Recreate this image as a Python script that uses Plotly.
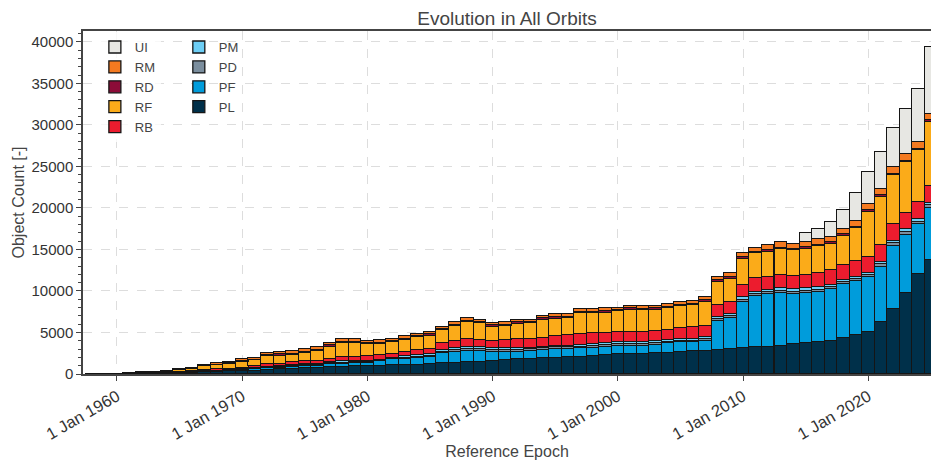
import plotly.graph_objects as go

years = list(range(1958, 2026))

PL = [2, 4, 12, 30, 50, 75, 105, 135, 170, 260, 300, 350, 400, 420, 530, 570, 650, 720, 720, 845,
      845, 930, 930, 964, 1048, 1130, 1085, 1170, 1290, 1360, 1410, 1482, 1603, 1687, 1771, 1844, 1892, 1964,
      2012, 2085, 2205, 2290, 2374, 2374, 2446, 2494, 2567, 2651, 2771, 2771, 2892, 3049, 3169, 3217, 3290,
      3410, 3580, 3700, 3820, 4013, 4374, 4700, 5025, 6230, 7796, 9724, 12050, 13737]
PF = [0, 0, 2, 5, 10, 15, 22, 30, 38, 60, 70, 85, 110, 200, 200, 200, 200, 240, 290, 325,
      410, 400, 446, 566, 723, 723, 800, 845, 1205, 1325, 1400, 1325, 1085, 1000, 916, 928, 1000, 1048,
      1000, 1012, 964, 1000, 1000, 1000, 928, 1036, 1133, 1170, 1085, 1205, 3495, 3663, 5543, 6182, 6345,
      6387, 6060, 6025, 6097, 6194, 6435, 6470, 6628, 6700, 7628, 7061, 5989, 6302]
PD = [0, 0, 0, 0, 1, 2, 3, 4, 5, 7, 8, 10, 12, 20, 40, 60, 80, 80, 100, 120,
      120, 90, 90, 90, 90, 130, 180, 180, 180, 190, 190, 190, 190, 190, 220, 180, 180, 180,
      180, 180, 200, 190, 200, 230, 220, 200, 180, 180, 160, 200, 230, 230, 240, 230, 210,
      230, 270, 270, 250, 210, 230, 240, 275, 300, 320, 340, 320, 300]
PM = [0, 0, 0, 2, 3, 5, 7, 9, 12, 18, 20, 25, 30, 50, 80, 90, 120, 120, 140, 160,
      160, 110, 110, 110, 110, 150, 220, 220, 220, 220, 220, 220, 220, 220, 260, 220, 220, 220,
      220, 220, 246, 220, 246, 288, 270, 246, 220, 220, 200, 246, 288, 288, 290, 290, 272,
      300, 330, 330, 316, 272, 290, 240, 280, 300, 320, 347, 320, 300]
RB = [1, 3, 10, 22, 35, 50, 60, 75, 90, 140, 160, 185, 220, 240, 325, 325, 400, 360, 315, 410,
      520, 520, 600, 600, 480, 520, 600, 600, 800, 880, 964, 880, 916, 1000, 1012, 1048, 1085, 1170,
      1250, 1290, 1290, 1277, 1205, 1205, 1205, 1205, 1205, 1290, 1410, 1398, 1410, 1482, 1482, 1614, 1607,
      1566, 1607, 1607, 1651, 1808, 1808, 2000, 1856, 1976, 2012, 1964, 2012, 2049]
RF = [0, 2, 10, 28, 70, 110, 160, 210, 270, 430, 500, 590, 700, 700, 964, 964, 890, 1050, 1205, 1400,
      1735, 1735, 1410, 1325, 1400, 1494, 1600, 1600, 1600, 1808, 2050, 2012, 1687, 1687, 1844, 1892, 2133, 2085,
      2050, 2530, 2410, 2410, 2530, 2615, 2615, 2530, 2651, 2651, 2651, 2892, 2808, 2735, 3133, 3012, 3012,
      3133, 3097, 3169, 3254, 3205, 3495, 3904, 5495, 5856, 5868, 6073, 6266, 7712]
RD = [0, 0, 2, 4, 8, 12, 16, 20, 30, 45, 50, 60, 80, 100, 120, 150, 120, 120, 170, 200,
      120, 120, 120, 120, 120, 120, 150, 170, 120, 120, 190, 120, 170, 160, 200, 120, 200, 170,
      200, 120, 160, 170, 160, 200, 200, 200, 160, 200, 200, 200, 200, 200, 200, 193, 200,
      200, 120, 170, 160, 160, 200, 190, 200, 200, 160, 193, 160, 200]
RM = [0, 1, 4, 9, 23, 31, 47, 67, 85, 140, 172, 195, 230, 190, 280, 280, 310, 310, 310, 280,
      310, 310, 280, 280, 290, 280, 200, 240, 280, 325, 290, 280, 240, 290, 280, 280, 313, 360,
      360, 434, 400, 400, 280, 313, 300, 300, 320, 320, 360, 400, 400, 482, 482, 482, 602,
      650, 640, 602, 687, 675, 640, 687, 760, 760, 843, 807, 807, 723]
UI = [0, 0, 0, 0, 0, 0, 0, 0, 0, 0, 0, 0, 0, 0, 0, 0, 0, 0, 0, 0,
      0, 0, 0, 0, 0, 0, 0, 0, 0, 0, 0, 0, 0, 0, 0, 0, 0, 0,
      0, 0, 0, 0, 0, 0, 0, 0, 0, 0, 0, 0, 0, 0, 0, 0, 0,
      0, 0, 1085, 1241, 1735, 2290, 3338, 3856, 4459, 4663, 5386, 6386, 8037]

dates = [f"{y}-01-01" for y in years]

series = [
    ("PL", PL, "#00304a", "legend2"),
    ("PF", PF, "#009cdb", "legend2"),
    ("PD", PD, "#7b8e9e", "legend2"),
    ("PM", PM, "#6dcef5", "legend2"),
    ("RB", RB, "#ec1c2e", "legend"),
    ("RF", RF, "#fbab19", "legend"),
    ("RD", RD, "#8c0c38", "legend"),
    ("RM", RM, "#f47a20", "legend"),
    ("UI", UI, "#e7e7e3", "legend"),
]

year_ms = 365.25 * 24 * 3600 * 1000

fig = go.Figure()
for name, vals, color, leg in series:
    fig.add_trace(go.Bar(
        x=dates, y=vals, name=name, legend=leg,
        width=[year_ms] * len(dates),
        marker=dict(color=color, line=dict(color="#151515", width=1.3)),
    ))

font_family = "Liberation Sans, Arial, sans-serif"
fig.update_layout(
    width=931, height=464,
    margin=dict(l=83, r=0, t=31, b=90, autoexpand=False),
    barmode="stack", bargap=0,
    paper_bgcolor="white", plot_bgcolor="white",
    font=dict(family=font_family, size=15, color="#333"),
    title=dict(text="Evolution in All Orbits", x=0.5, xref="paper", xanchor="center",
               y=1 - 18 / 464, yref="container", yanchor="middle",
               font=dict(size=19, color="#444")),
    legend=dict(x=0.014, y=0.997, xanchor="left", yanchor="top",
                bgcolor="rgba(255,255,255,0.8)", traceorder="reversed",
                font=dict(size=13, color="#444"), tracegroupgap=0),
    legend2=dict(x=0.113, y=0.997, xanchor="left", yanchor="top",
                 bgcolor="rgba(255,255,255,0)", traceorder="reversed",
                 font=dict(size=13, color="#444"), tracegroupgap=0),
    xaxis=dict(
        type="date", range=["1957-04-15", "2024-12-30"], automargin=False,
        tick0="1960-01-01", dtick="M120", tickformat="%-d %b %Y", tickangle=-30,
        ticks="outside", ticklen=5, tickcolor="#444",
        showline=True, mirror=True, linecolor="#444", linewidth=1.5,
        showgrid=True, gridcolor="#dddddd", griddash="dash", gridwidth=1,
        title=dict(text="Reference Epoch", font=dict(size=16, color="#444"), standoff=0),
        tickfont=dict(size=16.5, color="#333"),
    ),
    yaxis=dict(
        range=[0, 41300], dtick=5000, tickformat="d", automargin=False,
        ticks="outside", ticklen=5, tickcolor="#444",
        minor=dict(dtick=1000, ticks="outside", ticklen=3, tickcolor="#444", showgrid=False),
        showline=True, mirror=True, linecolor="#444", linewidth=1.5,
        showgrid=True, gridcolor="#dddddd", griddash="dash", gridwidth=1,
        zeroline=False,
        title=dict(text="Object Count [-]", font=dict(size=16, color="#444"), standoff=3),
        tickfont=dict(size=15, color="#333"),
    ),
)

fig.write_html("out.html", config={"displayModeBar": False},
               post_script="document.body.style.margin='0';")
